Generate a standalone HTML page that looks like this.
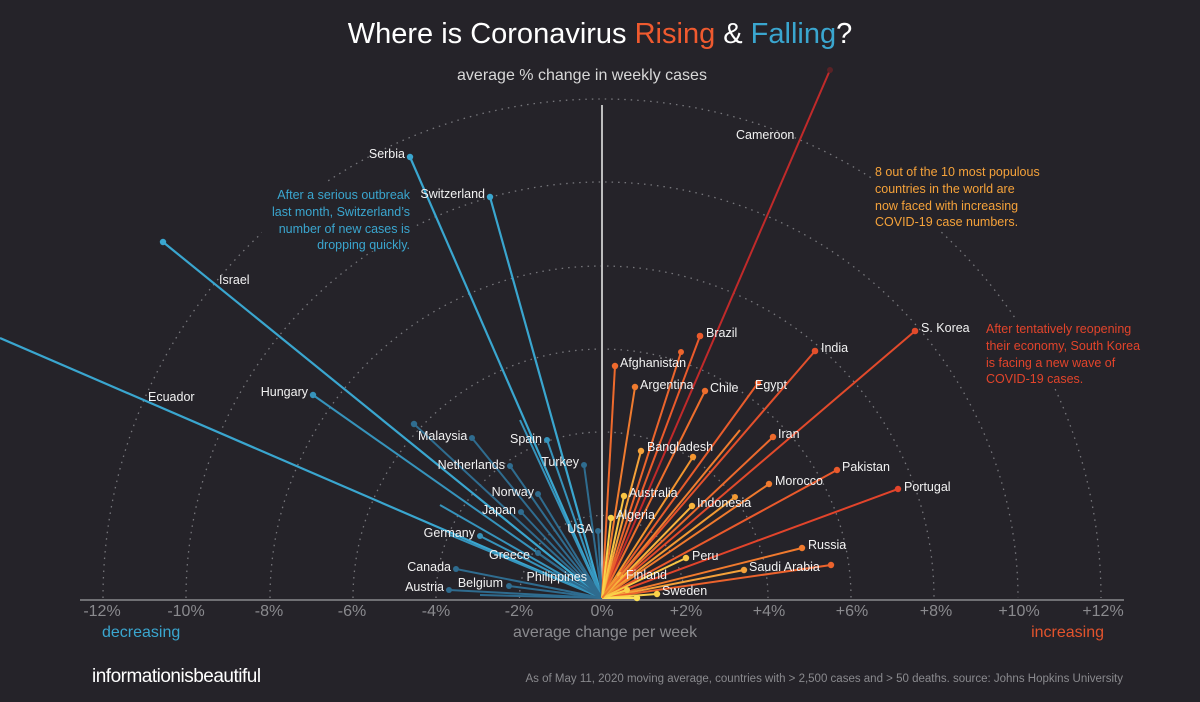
<!DOCTYPE html>
<html><head><meta charset="utf-8"><style>
html,body{margin:0;padding:0;background:#252329;}
svg{display:block;}
.n{font-family:"Liberation Sans Narrow","Liberation Sans",sans-serif;font-stretch:condensed;font-size:12.5px;fill:#f2f2f2;}
.t{font-family:"Liberation Sans Narrow","Liberation Sans",sans-serif;font-stretch:condensed;font-size:16px;fill:#8a8a8e;}
.a{font-family:"Liberation Sans Narrow","Liberation Sans",sans-serif;font-stretch:condensed;font-size:12.5px;}
</style></head><body>
<svg width="1200" height="702" viewBox="0 0 1200 702" xmlns="http://www.w3.org/2000/svg">
<rect width="1200" height="702" fill="#252329"/>
<g fill="none" stroke="#77777c" stroke-width="1.3" stroke-dasharray="1.5 5">
<path d="M519.5,598 A82.5,82.5 0 0 1 684.5,598"/>
<path d="M436,598 A166,166 0 0 1 768,598"/>
<path d="M353,598 A249,249 0 0 1 851,598"/>
<path d="M270,598 A332,332 0 0 1 934,598"/>
<path d="M186,598 A416,416 0 0 1 1018,598"/>
<path d="M103,598 A499,499 0 0 1 1101,598"/>
</g>
<rect x="262" y="183" width="152" height="68" fill="#252329"/>
<rect x="872" y="160" width="185" height="70" fill="#252329"/>
<rect x="982" y="318" width="180" height="70" fill="#252329"/>
<line x1="602" y1="105" x2="602" y2="598" stroke="#bdbdbd" stroke-width="2"/>
<line x1="80" y1="600" x2="1124" y2="600" stroke="#8a8a8e" stroke-width="1.5"/>
<g stroke-width="2.2" fill="#3aa6cf" stroke="#3aa6cf">
<line x1="602" y1="598" x2="0" y2="338"/>
<line x1="602" y1="598" x2="163" y2="242"/><circle cx="163" cy="242" r="3.2" stroke="none"/>
<line x1="602" y1="598" x2="410" y2="157"/><circle cx="410" cy="157" r="3.2" stroke="none"/>
<line x1="602" y1="598" x2="490" y2="197"/><circle cx="490" cy="197" r="3.2" stroke="none"/>
</g>
<g stroke-width="2" fill="#3693bb" stroke="#3693bb">
<line x1="602" y1="598" x2="313" y2="395"/><circle cx="313" cy="395" r="3.2" stroke="none"/>
<line x1="602" y1="598" x2="480" y2="536"/><circle cx="480" cy="536" r="3" stroke="none"/>
<line x1="602" y1="598" x2="450" y2="535"/>
<line x1="602" y1="598" x2="440" y2="505"/>
<line x1="602" y1="598" x2="547" y2="440"/><circle cx="547" cy="440" r="3" stroke="none"/>
<line x1="602" y1="598" x2="520" y2="420"/>
</g>
<g stroke-width="2" fill="#2f6c8f" stroke="#2f6c8f">
<line x1="602" y1="598" x2="414" y2="424"/><circle cx="414" cy="424" r="3.2" stroke="none"/>
<line x1="602" y1="598" x2="472" y2="438"/><circle cx="472" cy="438" r="3" stroke="none"/>
<line x1="602" y1="598" x2="510" y2="466"/><circle cx="510" cy="466" r="3" stroke="none"/>
<line x1="602" y1="598" x2="538" y2="494"/><circle cx="538" cy="494" r="3" stroke="none"/>
<line x1="602" y1="598" x2="521" y2="512"/><circle cx="521" cy="512" r="3" stroke="none"/>
<line x1="602" y1="598" x2="584" y2="465"/><circle cx="584" cy="465" r="3" stroke="none"/>
<line x1="602" y1="598" x2="598" y2="531"/><circle cx="598" cy="531" r="3" stroke="none"/>
<line x1="602" y1="598" x2="538" y2="553"/><circle cx="538" cy="553" r="3" stroke="none"/>
<line x1="602" y1="598" x2="456" y2="569"/><circle cx="456" cy="569" r="3" stroke="none"/>
<line x1="602" y1="598" x2="449" y2="590"/><circle cx="449" cy="590" r="3" stroke="none"/>
<line x1="602" y1="598" x2="509" y2="586"/><circle cx="509" cy="586" r="3" stroke="none"/>
<line x1="602" y1="598" x2="553" y2="572"/>
<line x1="602" y1="598" x2="480" y2="595"/>
</g>
<g stroke-width="2">
<line x1="602" y1="598" x2="830" y2="70" stroke="#c02a2a"/><circle cx="830" cy="70" r="3" fill="#5a2226"/>
<line x1="602" y1="598" x2="915" y2="331" stroke="#e24a2b"/><circle cx="915" cy="331" r="3.3" fill="#e24a2b"/>
<line x1="602" y1="598" x2="815" y2="351" stroke="#e3502c"/><circle cx="815" cy="351" r="3.3" fill="#e3502c"/>
<line x1="602" y1="598" x2="700" y2="336" stroke="#ea5a2c"/><circle cx="700" cy="336" r="3.3" fill="#ea5a2c"/>
<line x1="602" y1="598" x2="681" y2="352" stroke="#ec652d"/><circle cx="681" cy="352" r="3" fill="#ec652d"/>
<line x1="602" y1="598" x2="615" y2="366" stroke="#ee6a2d"/><circle cx="615" cy="366" r="3.2" fill="#ee6a2d"/>
<line x1="602" y1="598" x2="635" y2="387" stroke="#f07b2f"/><circle cx="635" cy="387" r="3.2" fill="#f07b2f"/>
<line x1="602" y1="598" x2="705" y2="391" stroke="#ee6e2d"/><circle cx="705" cy="391" r="3.2" fill="#ee6e2d"/>
<line x1="602" y1="598" x2="758" y2="383" stroke="#e85c2c"/><circle cx="758" cy="383" r="3.2" fill="#e85c2c"/>
<line x1="602" y1="598" x2="773" y2="437" stroke="#ec6a2d"/><circle cx="773" cy="437" r="3.2" fill="#ec6a2d"/>
<line x1="602" y1="598" x2="641" y2="451" stroke="#f5a23a"/><circle cx="641" cy="451" r="3.2" fill="#f5a23a"/>
<line x1="602" y1="598" x2="693" y2="457" stroke="#f3952f"/><circle cx="693" cy="457" r="3.2" fill="#f3952f"/>
<line x1="602" y1="598" x2="837" y2="470" stroke="#ea5a2c"/><circle cx="837" cy="470" r="3.2" fill="#ea5a2c"/>
<line x1="602" y1="598" x2="898" y2="489" stroke="#e2442b"/><circle cx="898" cy="489" r="3.2" fill="#e2442b"/>
<line x1="602" y1="598" x2="769" y2="484" stroke="#f07a2e"/><circle cx="769" cy="484" r="3.2" fill="#f07a2e"/>
<line x1="602" y1="598" x2="735" y2="497" stroke="#f39a33"/><circle cx="735" cy="497" r="3" fill="#f39a33"/>
<line x1="602" y1="598" x2="624" y2="496" stroke="#f9c544"/><circle cx="624" cy="496" r="3.2" fill="#f9c544"/>
<line x1="602" y1="598" x2="692" y2="506" stroke="#f8b43d"/><circle cx="692" cy="506" r="3.2" fill="#f8b43d"/>
<line x1="602" y1="598" x2="611" y2="518" stroke="#fad24a"/><circle cx="611" cy="518" r="3.2" fill="#fad24a"/>
<line x1="602" y1="598" x2="802" y2="548" stroke="#f07a2e"/><circle cx="802" cy="548" r="3.2" fill="#f07a2e"/>
<line x1="602" y1="598" x2="686" y2="558" stroke="#f9c544"/><circle cx="686" cy="558" r="3.2" fill="#f9c544"/>
<line x1="602" y1="598" x2="744" y2="570" stroke="#f5a23a"/><circle cx="744" cy="570" r="3.2" fill="#f5a23a"/>
<line x1="602" y1="598" x2="831" y2="565" stroke="#ec632d"/><circle cx="831" cy="565" r="3.2" fill="#ec632d"/>
<line x1="602" y1="598" x2="620" y2="575" stroke="#f8b43d"/><circle cx="620" cy="575" r="3" fill="#f8b43d"/>
<line x1="602" y1="598" x2="657" y2="594" stroke="#fad24a"/><circle cx="657" cy="594" r="3.2" fill="#fad24a"/>
<line x1="602" y1="598" x2="637" y2="598" stroke="#fde055"/><circle cx="637" cy="598" r="3.2" fill="#fde055"/>
<line x1="602" y1="598" x2="627" y2="590" stroke="#fad24a"/><circle cx="627" cy="590" r="3" fill="#fad24a"/>
<line x1="602" y1="598" x2="740" y2="430" stroke="#f07e2f"/>
</g>
<g class="n">
<text x="405" y="158" text-anchor="end">Serbia</text>
<text x="485" y="198" text-anchor="end">Switzerland</text>
<text x="219" y="284">Israel</text>
<text x="148" y="401">Ecuador</text>
<text x="308" y="396" text-anchor="end">Hungary</text>
<text x="418" y="440">Malaysia</text>
<text x="542" y="443" text-anchor="end">Spain</text>
<text x="579" y="466" text-anchor="end">Turkey</text>
<text x="505" y="469" text-anchor="end">Netherlands</text>
<text x="534" y="496" text-anchor="end">Norway</text>
<text x="516" y="514" text-anchor="end">Japan</text>
<text x="593" y="533" text-anchor="end">USA</text>
<text x="475" y="537" text-anchor="end">Germany</text>
<text x="530" y="559" text-anchor="end">Greece</text>
<text x="451" y="571" text-anchor="end">Canada</text>
<text x="587" y="581" text-anchor="end">Philippines</text>
<text x="444" y="591" text-anchor="end">Austria</text>
<text x="503" y="587" text-anchor="end">Belgium</text>
<text x="736" y="139">Cameroon</text>
<text x="921" y="332">S. Korea</text>
<text x="821" y="352">India</text>
<text x="706" y="337">Brazil</text>
<text x="620" y="367">Afghanistan</text>
<text x="640" y="389">Argentina</text>
<text x="710" y="392">Chile</text>
<text x="755" y="389">Egypt</text>
<text x="778" y="438">Iran</text>
<text x="647" y="451">Bangladesh</text>
<text x="842" y="471">Pakistan</text>
<text x="904" y="491">Portugal</text>
<text x="775" y="485">Morocco</text>
<text x="629" y="497">Australia</text>
<text x="697" y="507">Indonesia</text>
<text x="616" y="519">Algeria</text>
<text x="808" y="549">Russia</text>
<text x="692" y="560">Peru</text>
<text x="749" y="571">Saudi Arabia</text>
<text x="626" y="579">Finland</text>
<text x="662" y="595">Sweden</text>
</g>
<g class="a" fill="#3aa6cf" text-anchor="end">
<text x="410" y="199">After a serious outbreak</text>
<text x="410" y="216">last month, Switzerland’s</text>
<text x="410" y="233">number of new cases is</text>
<text x="410" y="249">dropping quickly.</text>
</g>
<g class="a" fill="#f5a23a">
<text x="875" y="176">8 out of the 10 most populous</text>
<text x="875" y="193">countries in the world are</text>
<text x="875" y="210">now faced with increasing</text>
<text x="875" y="226">COVID-19 case numbers.</text>
</g>
<g class="a" fill="#e2442b">
<text x="986" y="333">After tentatively reopening</text>
<text x="986" y="350">their economy, South Korea</text>
<text x="986" y="367">is facing a new wave of</text>
<text x="986" y="383">COVID-19 cases.</text>
</g>
<g class="t" text-anchor="middle">
<text x="102" y="616">-12%</text><text x="186" y="616">-10%</text><text x="269" y="616">-8%</text>
<text x="352" y="616">-6%</text><text x="436" y="616">-4%</text><text x="519" y="616">-2%</text>
<text x="602" y="616">0%</text><text x="686" y="616">+2%</text><text x="769" y="616">+4%</text>
<text x="852" y="616">+6%</text><text x="936" y="616">+8%</text><text x="1019" y="616">+10%</text>
<text x="1103" y="616">+12%</text>
<text x="605" y="637">average change per week</text>
</g>
<text x="102" y="637" class="t" style="fill:#3aa6cf">decreasing</text>
<text x="1104" y="637" class="t" text-anchor="end" style="fill:#e2532c">increasing</text>
<text x="600" y="43" text-anchor="middle" font-family="Liberation Sans, sans-serif" font-size="29" fill="#ffffff">Where is Coronavirus <tspan fill="#ef5a2f">Rising</tspan> &amp; <tspan fill="#3aa6cf">Falling</tspan>?</text>
<text x="582" y="80" text-anchor="middle" font-family="Liberation Sans, sans-serif" font-size="16" fill="#d8d8d8">average % change in weekly cases</text>
<text x="92" y="682" font-family="Liberation Sans, sans-serif" font-size="19" fill="#ffffff" letter-spacing="-0.5">informationisbeautiful</text>
<text x="1123" y="682" text-anchor="end" font-family="Liberation Sans Narrow, Liberation Sans, sans-serif" font-stretch="condensed" font-size="11.5" fill="#8a8a8e">As of May 11, 2020      moving average, countries with &gt; 2,500 cases and &gt; 50 deaths. source: Johns Hopkins University</text>
</svg>
</body></html>
